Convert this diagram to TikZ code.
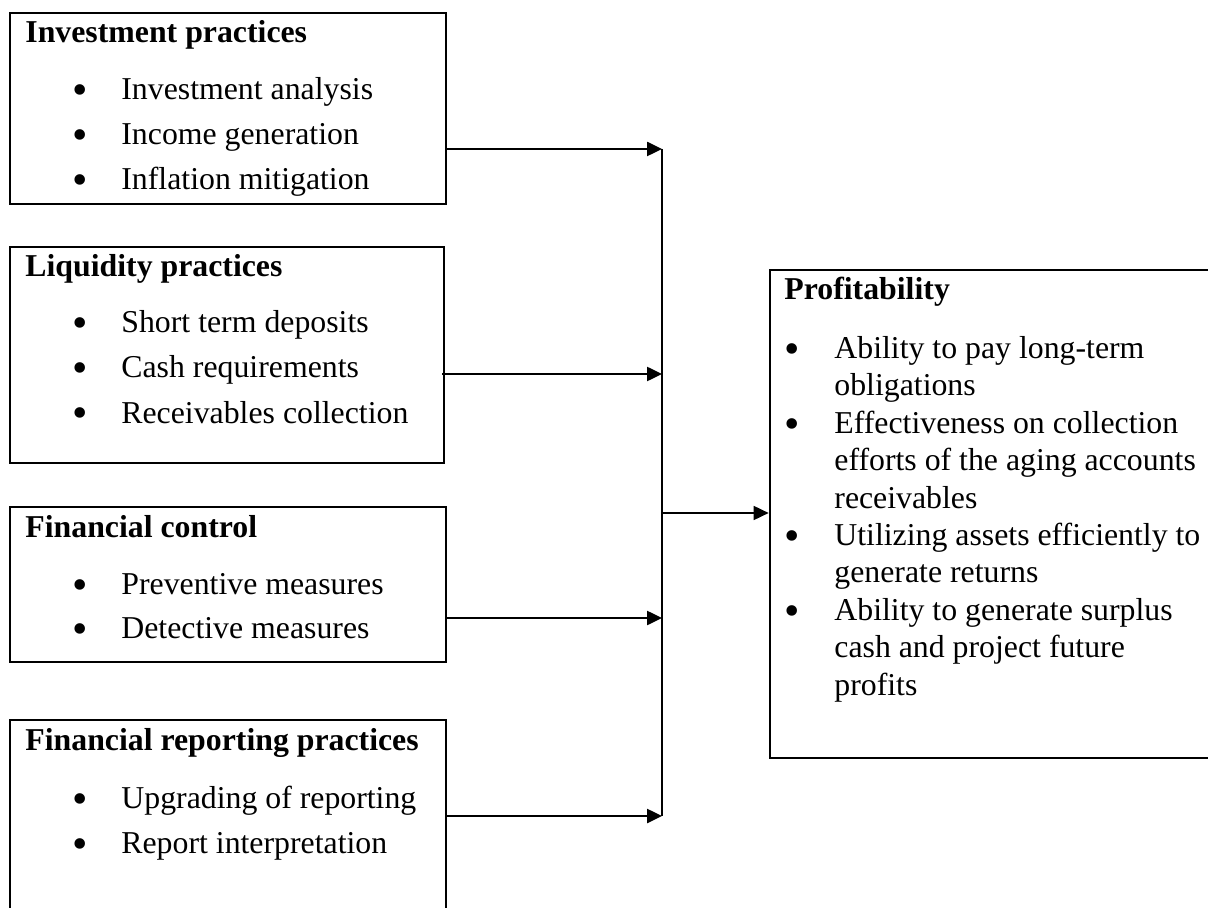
\documentclass[tikz,border=0pt]{standalone}
\usepackage{fontspec}
\setmainfont{Liberation Serif}
\usetikzlibrary{arrows.meta,fit}
\begin{document}
\begin{tikzpicture}[x=0.5pt,y=-0.5pt,
  box/.style={draw, line width=1.35pt, inner sep=0pt},
  ttl/.style={anchor=base west, inner sep=0pt, font=\fontsize{15.9}{18}\selectfont\bfseries},
  itm/.style={anchor=base west, inner sep=0pt, font=\fontsize{15.9}{18}\selectfont},
  bul/.style={anchor=base, inner sep=0pt, yshift=-2.5pt, font=\fontsize{22}{24}\selectfont},
  link/.style={line width=1.25pt, -{Triangle[length=7.5pt,width=7pt]}},
  thinlink/.style={line width=0.9pt, -{Triangle[length=7.5pt,width=7pt]}},
  trunk/.style={line width=0.9pt},
]
\useasboundingbox (0,0) rectangle (1208,908);
\clip (0,0) rectangle (1208,908);

% boxes
\node[box, fit={(10,13) (446,204)}] (b1) {};
\node[box, fit={(10,247) (444,463)}] (b2) {};
\node[box, fit={(10,507) (446,662)}] (b3) {};
\node[box, fit={(10,720) (446,940)}] (b4) {};
\node[box, fit={(770,270) (1240,758)}] (prof) {};

% box 1
\node[ttl] (t1) at (25,43) {Investment practices};
\node[bul] (b1a) at (80,100) {•}; \node[itm] (i1a) at (121,100) {Investment analysis};
\node[bul] (b1b) at (80,145) {•}; \node[itm] (i1b) at (121,145) {Income generation};
\node[bul] (b1c) at (80,190) {•}; \node[itm] (i1c) at (121,190) {Inflation mitigation};

% box 2
\node[ttl] (t2) at (25,277) {Liquidity practices};
\node[bul] (b2a) at (80,333) {•}; \node[itm] (i2a) at (121,333) {Short term deposits};
\node[bul] (b2b) at (80,378) {•}; \node[itm] (i2b) at (121,378) {Cash requirements};
\node[bul] (b2c) at (80,423) {•}; \node[itm] (i2c) at (121,423) {Receivables collection};

% box 3
\node[ttl] (t3) at (25,537) {Financial control};
\node[bul] (b3a) at (80,594) {•}; \node[itm] (i3a) at (121,594) {Preventive measures};
\node[bul] (b3b) at (80,638) {•}; \node[itm] (i3b) at (121,638) {Detective measures};

% box 4
\node[ttl] (t4) at (25,750) {Financial reporting practices};
\node[bul] (b4a) at (80,808) {•}; \node[itm] (i4a) at (121,808) {Upgrading of reporting};
\node[bul] (b4b) at (80,853) {•}; \node[itm] (i4b) at (121,853) {Report interpretation};

% profitability
\node[ttl] (tp) at (784,300) {Profitability};
\node[bul] (bpa) at (792,358.5) {•}; \node[itm] (ipa1) at (834,358.5) {Ability to pay long-term};
\node[itm] (ipa2) at (834,395.9) {obligations};
\node[bul] (bpb) at (792,433.3) {•}; \node[itm] (ipb1) at (834,433.3) {Effectiveness on collection};
\node[itm] (ipb2) at (834,470.7) {efforts of the aging accounts};
\node[itm] (ipb3) at (834,508.1) {receivables};
\node[bul] (bpc) at (792,545.5) {•}; \node[itm] (ipc1) at (834,545.5) {Utilizing assets efficiently to};
\node[itm] (ipc2) at (834,582.9) {generate returns};
\node[bul] (bpd) at (792,620.3) {•}; \node[itm] (ipd1) at (834,620.3) {Ability to generate surplus};
\node[itm] (ipd2) at (834,657.7) {cash and project future};
\node[itm] (ipd3) at (834,695.1) {profits};

% junction points
\coordinate (j1) at (662,149);
\coordinate (j2) at (662,374);
\coordinate (jm) at (662,513);
\coordinate (j3) at (662,618);
\coordinate (j4) at (662,816);

% connectors
\draw[trunk] (j1) -- (j4);
\draw[link] (b1.east |- j1) -- (j1);
\draw[link, shorten <=-1.5pt] (b2.east |- j2) -- (j2);
\draw[link] (b3.east |- j3) -- (j3);
\draw[link] (b4.east |- j4) -- (j4);
\draw[thinlink] (jm) -- (prof.west |- jm);
\end{tikzpicture}
\end{document}
